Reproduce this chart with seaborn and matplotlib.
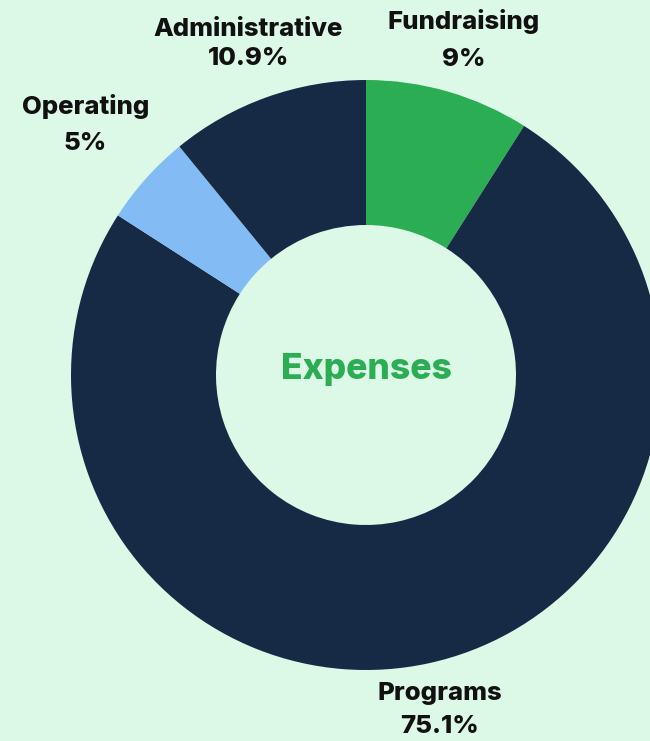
import matplotlib
matplotlib.use("Agg")
import matplotlib.pyplot as plt
import seaborn as sns
import numpy as np

categories = ["Fundraising", "Programs", "Operating", "Administrative"]
values = [9, 75.1, 5, 10.9]
value_labels = ["9%", "75.1%", "5%", "10.9%"]
colors = ["#2BAD53", "#172A45", "#83BBF5", "#172A45"]

# label styling (radial distance as fraction of radius, line spacing)
label_dist = [1.183, 1.163, 1.275, 1.19]
label_spacing = [1.74, 1.6, 1.7, 1.35]

BG = "#DCF8E6"
sns.set_theme(style="white")
plt.rcParams["font.family"] = ["Inter", "DejaVu Sans"]

fig = plt.figure(figsize=(6.5, 7.41), dpi=100, facecolor=BG)
ax = fig.add_axes([0, 0, 1, 1])
ax.set_facecolor(BG)

cx, cy, R = 366, 366, 295
labels = [f"{c}\n{v}" for c, v in zip(categories, value_labels)]
wedges, texts = ax.pie(
    values,
    labels=labels,
    colors=colors,
    startangle=90,
    counterclock=False,
    center=(cx, cy),
    radius=R,
    labeldistance=1.19,
    wedgeprops=dict(width=145, edgecolor="none", linewidth=0),
    textprops=dict(fontsize=18.5, fontweight="heavy", color="#111111"),
)
for w, t, d, ls in zip(wedges, texts, label_dist, label_spacing):
    ang = np.deg2rad((w.theta1 + w.theta2) / 2)
    t.set_position((cx + d * R * np.cos(ang), cy + d * R * np.sin(ang)))
    t.set_ha("center")
    t.set_va("center")
    t.set_multialignment("center")
    t.set_linespacing(ls)

ax.text(cx, cy + 5, "Expenses", ha="center", va="center",
        fontsize=25.5, fontweight="heavy", color="#2BAD53")

ax.set_xlim(0, 650)
ax.set_ylim(0, 741)
ax.set_aspect("equal")
ax.axis("off")

fig.savefig("out.png", dpi=100, facecolor=BG)
